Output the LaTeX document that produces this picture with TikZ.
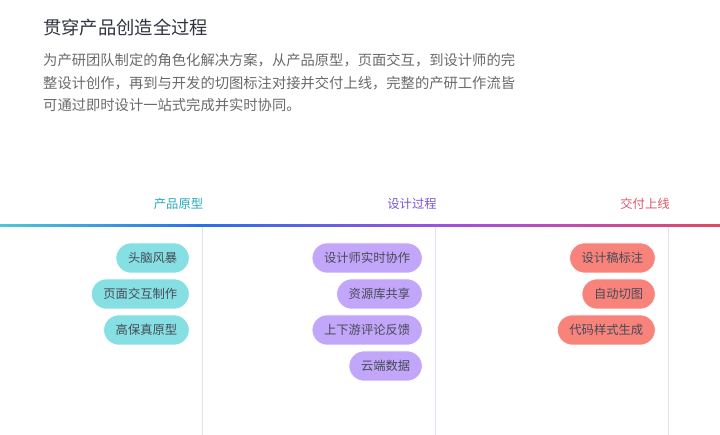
\documentclass[tikz,border=0pt]{standalone}
\usepackage{fontspec}
\setmainfont{Noto Sans CJK SC}
\definecolor{titlec}{HTML}{2F3540}
\definecolor{parac}{HTML}{6A6A6A}
\definecolor{h1c}{HTML}{27AAB8}
\definecolor{h2c}{HTML}{7A55D8}
\definecolor{h3c}{HTML}{E0566A}
\definecolor{p1c}{HTML}{85DFE3}
\definecolor{p2c}{HTML}{C2A6FA}
\definecolor{p3c}{HTML}{F8837B}
\definecolor{ptext}{HTML}{474A56}
\definecolor{vline}{HTML}{DCE4F0}
\definecolor{g1}{HTML}{4CC8D8}
\definecolor{g2}{HTML}{2A70E8}
\definecolor{g3}{HTML}{9A52E0}
\definecolor{g4}{HTML}{C04CB8}
\definecolor{g5}{HTML}{E24860}
\pgfdeclarehorizontalshading{barshade}{100bp}{color(0bp)=(g1); color(25bp)=(g1); color(39bp)=(g2); color(55bp)=(g3); color(64bp)=(g4); color(75bp)=(g5); color(100bp)=(g5)}
\tikzset{
  pill/.style={anchor=east, rounded corners=15pt, minimum height=30pt, inner xsep=12pt, inner ysep=0pt, font=\fontsize{12.3}{14}\selectfont, text=ptext, draw=white, line width=0.6pt},
  pillA/.style={pill, fill=p1c},
  pillB/.style={pill, fill=p2c},
  pillC/.style={pill, fill=p3c},
  head/.style={font=\fontsize{12.3}{14}\selectfont},
  para/.style={anchor=west, inner sep=0pt, text=parac, font=\fontsize{14.3}{16}\selectfont},
  sep/.style={draw=vline, line width=1pt}
}
\begin{document}
\begin{tikzpicture}[x=1pt,y=-1pt]
\useasboundingbox[fill=white] (0,0) rectangle (720,435);
\node[anchor=west, inner sep=0pt, text=titlec, font=\fontsize{18.3}{20}\selectfont] (title) at (43,28) {贯穿产品创造全过程};
\node[para] (l1) at (43,60) {为产研团队制定的角色化解决方案，从产品原型，页面交互，到设计师的完};
\node[para] (l2) at (43,83) {整设计创作，再到与开发的切图标注对接并交付上线，完整的产研工作流皆};
\node[para] (l3) at (43,105) {可通过即时设计一站式完成并实时协同。};
% headings
\node[head, text=h1c] (h1) at (178.5,204) {产品原型};
\node[head, text=h2c] (h2) at (412,204) {设计过程};
\node[head, text=h3c] (h3) at (645,204) {交付上线};
% gradient bar
\shade[shading=barshade] (0,224.5) rectangle (720,226.7);
% vertical separators
\coordinate (v1t) at (202.5,227); \coordinate (v1b) at (202.5,435);
\coordinate (v2t) at (435.5,227); \coordinate (v2b) at (435.5,435);
\coordinate (v3t) at (668.5,227); \coordinate (v3b) at (668.5,435);
\draw[sep] (v1t) -- (v1b);
\draw[sep] (v2t) -- (v2b);
\draw[sep] (v3t) -- (v3b);
% column 1
\node[pillA] (a1) at (189.5,258) {头脑风暴};
\node[pillA] (a2) at (189.5,294) {页面交互制作};
\node[pillA] (a3) at (189.5,330) {高保真原型};
% column 2
\node[pillB] (b1) at (422.5,258) {设计师实时协作};
\node[pillB] (b2) at (422.5,294) {资源库共享};
\node[pillB] (b3) at (422.5,330) {上下游评论反馈};
\node[pillB] (b4) at (422.5,366) {云端数据};
% column 3
\node[pillC] (c1) at (655.5,258) {设计稿标注};
\node[pillC] (c2) at (655.5,294) {自动切图};
\node[pillC] (c3) at (655.5,330) {代码样式生成};
\end{tikzpicture}
\end{document}
